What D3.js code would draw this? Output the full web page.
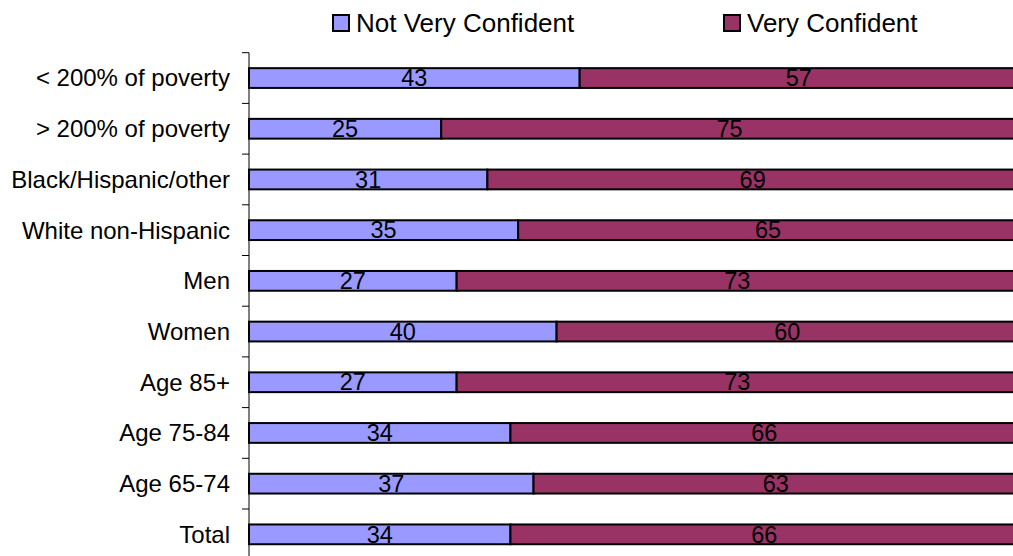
<!DOCTYPE html>
<html><head><meta charset="utf-8">
<script src="https://cdn.jsdelivr.net/npm/d3@7"></script>
<style>body{margin:0;background:#fff;overflow:hidden}svg{display:block}text{font-family:"Liberation Sans",Arial,sans-serif}</style>
</head><body>
<svg id="c" width="1013" height="556"></svg>
<script>
const categories = ["< 200% of poverty","> 200% of poverty","Black/Hispanic/other","White non-Hispanic","Men","Women","Age 85+","Age 75-84","Age 65-74","Total"];
const notVeryConfident = [43,25,31,35,27,40,27,34,37,34];
const veryConfident = [57,75,69,65,73,60,73,66,63,66];
const seriesNames = ["Not Very Confident","Very Confident"];
const colors = ["#9999FF","#993366"];

const svg = d3.select("#c");
const plotLeft = 249, plotTop = 52.7, band = 50.7;
const x = d3.scaleLinear().domain([0,100]).range([plotLeft, plotLeft+769]);
const y = d3.scaleBand().domain(categories).range([plotTop, plotTop+band*categories.length]).paddingInner(0.61).paddingOuter(0.305);

const data = categories.map((c,i)=>({cat:c, vals:[notVeryConfident[i], veryConfident[i]]}));

const g = svg.append("g");
data.forEach(d=>{
  let acc = 0;
  d.vals.forEach((v,j)=>{
    g.append("rect").attr("x", x(acc)).attr("y", y(d.cat)).attr("width", x(acc+v)-x(acc)).attr("height", y.bandwidth())
      .attr("fill", colors[j]).attr("stroke","#000").attr("stroke-width",2);
    g.append("text").attr("x", (x(acc)+x(acc+v))/2).attr("y", y(d.cat)+y.bandwidth()/2).attr("dy","0.35em")
      .attr("text-anchor","middle").attr("font-size","23.5px").attr("fill","#000").text(v);
    acc += v;
  });
});

// axis
const yAxis = d3.axisLeft(y).tickSize(0).tickPadding(19);
const ax = svg.append("g").attr("transform",`translate(${plotLeft},0)`).call(yAxis);
ax.select(".domain").remove();
ax.selectAll("text").attr("font-size","24px").attr("fill","#000").attr("dy","0.35em").style("font-family","Liberation Sans, Arial, sans-serif");
svg.append("line").attr("x1",plotLeft).attr("x2",plotLeft).attr("y1",plotTop).attr("y2",556).attr("stroke","#000").attr("stroke-width",1);
d3.range(categories.length+1).forEach(i=>{
  const yy = plotTop + i*band;
  svg.append("line").attr("x1",plotLeft-7).attr("x2",plotLeft).attr("y1",yy).attr("y2",yy).attr("stroke","#000").attr("stroke-width",1);
});

// legend
const leg = [{x:333, tx:356},{x:724, tx:747}];
seriesNames.forEach((n,i)=>{
  svg.append("rect").attr("x",leg[i].x).attr("y",15).attr("width",16).attr("height",16).attr("fill",colors[i]).attr("stroke","#000").attr("stroke-width",2);
  svg.append("text").attr("x",leg[i].tx).attr("y",32).attr("font-size","26px").attr("fill","#000").text(n);
});
</script>
</body></html>
